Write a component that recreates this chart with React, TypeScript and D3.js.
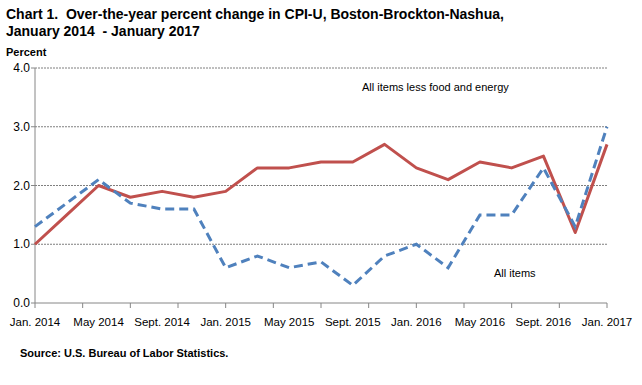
import React from "react";
import { scaleLinear, line } from "d3";

// bimonthly periods, Jan 2014 - Jan 2017
const periods = [
  "2014-01", "2014-03", "2014-05", "2014-07", "2014-09", "2014-11",
  "2015-01", "2015-03", "2015-05", "2015-07", "2015-09", "2015-11",
  "2016-01", "2016-03", "2016-05", "2016-07", "2016-09", "2016-11",
  "2017-01",
];
const allItems = [1.3, 1.7, 2.1, 1.7, 1.6, 1.6, 0.6, 0.8, 0.6, 0.7, 0.3, 0.8, 1.0, 0.6, 1.5, 1.5, 2.3, 1.3, 3.0];
const coreItems = [1.0, 1.5, 2.0, 1.8, 1.9, 1.8, 1.9, 2.3, 2.3, 2.4, 2.4, 2.7, 2.3, 2.1, 2.4, 2.3, 2.5, 1.2, 2.7];
const xLabels = [
  "Jan. 2014", "May 2014", "Sept. 2014", "Jan. 2015", "May 2015",
  "Sept. 2015", "Jan. 2016", "May 2016", "Sept. 2016", "Jan. 2017",
];
const yTicks = [0, 1, 2, 3, 4];

const W = 642;
const H = 385;
const left = 35, right = 607, top = 68, bottom = 303;

// months since Jan 2014
const monthIndex = (p: string) => {
  const [y, m] = p.split("-").map(Number);
  return (y - 2014) * 12 + (m - 1);
};

export default function App() {
  const x = scaleLinear().domain([0, 36]).range([left, right]);
  const y = scaleLinear().domain([0, 4]).range([bottom, top]);

  const pts = (vals: number[]) => vals.map((v, i) => [monthIndex(periods[i]), v] as [number, number]);
  const path = line<[number, number]>()
    .x((d) => x(d[0]))
    .y((d) => y(d[1]));

  const minorTicks = Array.from({ length: 13 }, (_, i) => i * 3);
  const labelPos = xLabels.map((_, i) => i * 4);
  const font = "Liberation Sans, Arial, sans-serif";

  return (
    <svg width={W} height={H} style={{ position: "absolute", left: 0, top: 0, background: "#fff" }} fontFamily={font}>
      <text x={6} y={19} fontSize={14} fontWeight="bold" fill="#000" style={{ whiteSpace: "pre" }}>
        {"Chart 1.  Over-the-year percent change in CPI-U, Boston-Brockton-Nashua,"}
      </text>
      <text x={6} y={36} fontSize={14} fontWeight="bold" fill="#000" style={{ whiteSpace: "pre" }}>
        {"January 2014  - January 2017"}
      </text>
      <text x={6} y={56} fontSize={11} fontWeight="bold" fill="#000">Percent</text>

      {/* gridlines */}
      {yTicks.filter((t) => t > 0).map((t) => (
        <line key={t} x1={left} x2={right} y1={y(t)} y2={y(t)} stroke="#7f7f7f" strokeWidth={1} strokeDasharray="2,1" />
      ))}
      {/* y axis */}
      <line x1={left} x2={left} y1={top} y2={bottom} stroke="#868686" />
      {yTicks.map((t) => (
        <g key={t}>
          <line x1={left - 4} x2={left} y1={y(t)} y2={y(t)} stroke="#868686" />
          <text x={left - 5} y={y(t) + 4} fontSize={12} textAnchor="end" fill="#000">{t.toFixed(1)}</text>
        </g>
      ))}
      {/* x axis */}
      <line x1={left} x2={right} y1={bottom} y2={bottom} stroke="#868686" />
      {minorTicks.map((m) => (
        <line key={m} x1={x(m)} x2={x(m)} y1={bottom} y2={bottom + 5} stroke="#868686" />
      ))}
      {labelPos.map((m, i) => (
        <text key={m} x={x(m)} y={326} fontSize={11.5} textAnchor="middle" fill="#000">{xLabels[i]}</text>
      ))}

      <path d={path(pts(coreItems)) || ""} fill="none" stroke="#C0504D" strokeWidth={3} strokeLinejoin="round" />
      <path d={path(pts(allItems)) || ""} fill="none" stroke="#4F81BD" strokeWidth={3} strokeDasharray="9,5" />

      <text x={362} y={91} fontSize={11} fill="#000">All items less food and energy</text>
      <text x={494} y={277} fontSize={11} fill="#000">All items</text>

      <text x={20} y={357} fontSize={11} fontWeight="bold" fill="#000">Source: U.S. Bureau of Labor Statistics.</text>
    </svg>
  );
}
